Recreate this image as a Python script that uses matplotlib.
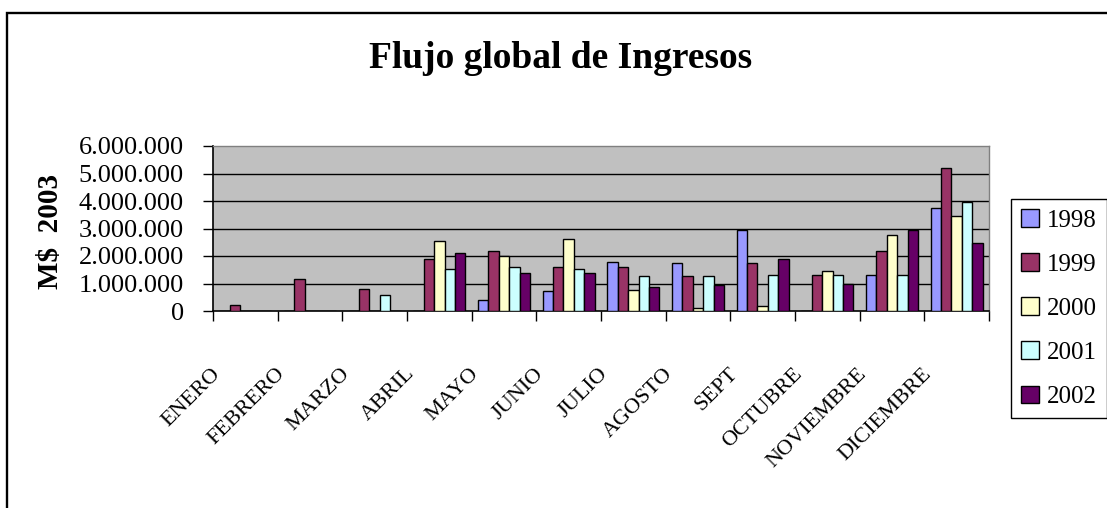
"""
Flujo global de Ingresos: monthly income 1998-2002 as grouped bars,
drawn in the look of the old Excel chart it came from.
"""

import numpy as np
import matplotlib
matplotlib.use("Agg")
import matplotlib.pyplot as plt
from matplotlib.patches import Rectangle
from matplotlib.transforms import offset_copy
from matplotlib.ticker import FuncFormatter, FixedLocator

months = ["ENERO", "FEBRERO", "MARZO", "ABRIL", "MAYO", "JUNIO", "JULIO",
          "AGOSTO", "SEPT", "OCTUBRE", "NOVIEMBRE", "DICIEMBRE"]
years = ["1998", "1999", "2000", "2001", "2002"]

v1998 = [0, 0, 0, 0, 400000, 710000, 1800000, 1730000, 2930000, 0, 1310000, 3730000]
v1999 = [220000, 1160000, 790000, 1890000, 2180000, 1590000, 1590000, 1290000,
         1740000, 1310000, 2190000, 5200000]
v2000 = [0, 0, 0, 2560000, 2010000, 2620000, 770000, 120000, 200000, 1440000,
         2780000, 3440000]
v2001 = [0, 0, 570000, 1510000, 1590000, 1510000, 1290000, 1290000, 1310000,
         1310000, 1310000, 3950000]
v2002 = [0, 0, 0, 2100000, 1370000, 1370000, 870000, 940000, 1880000, 1000000,
         2930000, 2480000]

series = [v1998, v1999, v2000, v2001, v2002]
colors = ["#9999FF", "#993366", "#FFFFCC", "#CCFFFF", "#660066"]

yticks = [0, 1000000, 2000000, 3000000, 4000000, 5000000, 6000000]

plt.rcParams['font.family'] = ['Liberation Serif', 'DejaVu Serif']

W, H = 1107, 508
fig = plt.figure(figsize=(W / 100, H / 100), dpi=100)
ax = fig.add_axes([213 / W, 1 - 311 / H, 776 / W, 165 / H])
ax.set_facecolor("#C0C0C0")

# bars
x = np.arange(len(months))
width = 0.16
for k, (vals, col, yr) in enumerate(zip(series, colors, years)):
    ax.bar(x + (k - 2) * width, vals, width, color=col, edgecolor="black",
           linewidth=1.0, label=yr, zorder=3)

ax.set_xlim(-0.5, len(months) - 0.5)
ax.set_ylim(0, 6000000)

# y axis
ax.yaxis.set_major_locator(FixedLocator(yticks))
ax.yaxis.set_major_formatter(FuncFormatter(lambda v, p: f"{int(v):,}".replace(",", ".")))
ax.tick_params(axis="y", direction="out", length=7, width=1, pad=14,
               labelsize=19, color="black")
for v in yticks[1:-1]:
    ax.axhline(v, color="black", lw=1, zorder=1)

# x axis: ticks between the months, labels drawn at 45 degrees
ax.xaxis.set_major_locator(FixedLocator(np.arange(-0.5, len(months), 1.0)))
ax.set_xticklabels([])
ax.tick_params(axis="x", direction="out", length=7, width=1)
lab_tr = offset_copy(ax.get_xaxis_transform(), fig=fig, x=-28, y=-60, units="dots")
for i, m in enumerate(months):
    ax.text(i, 0, m, transform=lab_tr, rotation=45, rotation_mode="anchor",
            ha="right", va="center", fontsize=16)

for s in ["left", "bottom"]:
    ax.spines[s].set_color("black")
    ax.spines[s].set_linewidth(1.2)
for s in ["top", "right"]:
    ax.spines[s].set_color("#808080")
    ax.spines[s].set_linewidth(1.0)

# texts
fig.text(561 / W, 1 - 68 / H, "Flujo global de Ingresos", ha="center",
         va="baseline", fontsize=27, fontweight="bold")
fig.text(51 / W, 1 - 231 / H, "M$  2003", rotation=90, ha="center",
         va="center", fontsize=21, fontweight="bold")

# legend
leg = fig.legend(loc="upper left", bbox_to_anchor=(1011 / W, 1 - 199 / H),
                 bbox_transform=fig.transFigure, fontsize=18, frameon=True,
                 fancybox=False, edgecolor="black", framealpha=1,
                 handlelength=0.72, handleheight=0.72, handletextpad=0.32,
                 borderpad=0.4, labelspacing=0.86, borderaxespad=0)
leg.get_frame().set_linewidth(1.0)

# outer chart border, runs off the right and bottom edges
fig.patches.append(Rectangle((7 / W, -0.1), 1.2, 1.1 - 12.8 / H,
                             transform=fig.transFigure, fill=False,
                             lw=1.7, ec="black"))

fig.savefig("out.png", dpi=100)
